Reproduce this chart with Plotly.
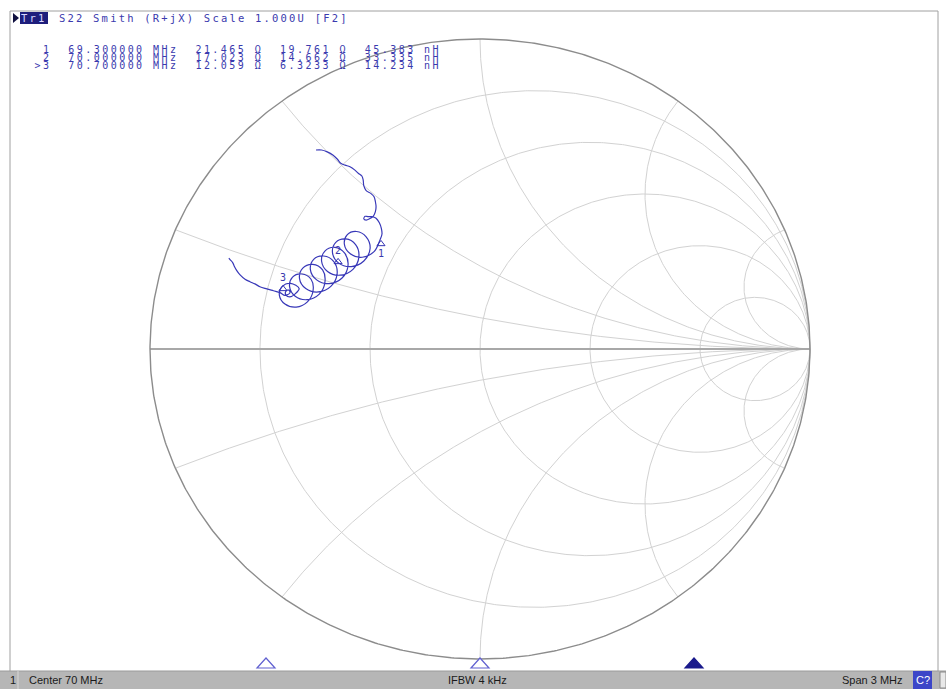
import numpy as np
import plotly.graph_objects as go

# ---------------- data ----------------
# measured S22 trace, reflection coefficient (real / imaginary)
trace_re = [
    -0.497, -0.480, -0.463, -0.446, -0.432, -0.422, -0.409, -0.394, -0.379, -0.369,
    -0.358, -0.354, -0.352, -0.345, -0.331, -0.321, -0.317, -0.315, -0.317, -0.323,
    -0.335, -0.345, -0.352, -0.348, -0.339, -0.328, -0.315, -0.305, -0.299, -0.297,
    -0.303, -0.321, -0.357, -0.393, -0.411, -0.402, -0.374, -0.345,
    -0.333, -0.352, -0.390, -0.428, -0.447, -0.437, -0.407, -0.377,
    -0.367, -0.385, -0.424, -0.462, -0.480, -0.470, -0.440, -0.410,
    -0.400, -0.418, -0.457, -0.495, -0.514, -0.504, -0.474, -0.443,
    -0.433, -0.452, -0.490, -0.528, -0.547, -0.537, -0.507, -0.477,
    -0.470, -0.487, -0.524, -0.560, -0.577, -0.568, -0.540, -0.512,
    -0.506, -0.523, -0.557, -0.591, -0.608, -0.599, -0.574, -0.548,
    -0.561, -0.576, -0.588, -0.588, -0.579, -0.576, -0.591,
    -0.606, -0.626, -0.646, -0.667, -0.682, -0.697, -0.712, -0.727, -0.737, -0.745,
    -0.749, -0.758, -0.761,
]
trace_im = [
    0.642, 0.642, 0.636, 0.626, 0.612, 0.599, 0.593, 0.588, 0.577, 0.567,
    0.558, 0.545, 0.526, 0.511, 0.502, 0.491, 0.475, 0.459, 0.443, 0.429,
    0.420, 0.416, 0.420, 0.428, 0.427, 0.427, 0.422, 0.407, 0.389, 0.371,
    0.352, 0.314, 0.296, 0.307, 0.338, 0.369, 0.379, 0.362,
    0.324, 0.284, 0.266, 0.277, 0.311, 0.344, 0.355, 0.337,
    0.297, 0.257, 0.238, 0.250, 0.283, 0.316, 0.328, 0.309,
    0.269, 0.229, 0.211, 0.223, 0.256, 0.289, 0.300, 0.282,
    0.242, 0.202, 0.184, 0.195, 0.228, 0.261, 0.273, 0.255,
    0.215, 0.177, 0.159, 0.170, 0.201, 0.232, 0.242, 0.225,
    0.187, 0.152, 0.135, 0.145, 0.174, 0.202, 0.212, 0.195,
    0.177, 0.168, 0.174, 0.187, 0.190, 0.181, 0.173,
    0.182, 0.188, 0.194, 0.201, 0.210, 0.217, 0.225, 0.239, 0.253, 0.268,
    0.278, 0.289, 0.293,
]

marker_ids = [1, 2, 3]
marker_freq_mhz = [69.3, 70.0, 70.7]
marker_r_ohm = [21.465, 17.023, 12.059]
marker_x_ohm = [19.761, 14.662, 6.3233]
marker_l_nh = [45.383, 33.335, 14.234]
marker_re = [-0.300, -0.430, -0.597]
marker_im = [0.339, 0.281, 0.194]
active_marker = 3

grid_r = [0.2, 0.5, 1.0, 2.0, 5.0]
grid_x = [0.2, 0.5, 1.0, 2.0, 5.0]

center_mhz = 70
span_mhz = 3
ifbw_khz = 4
trace_name = "Tr1"
param_name = "S22"
scale_u = 1.000
channel = 1

# ---------------- helpers (layout only) ----------------
W, H = 946, 689
def px(x):
    return x / W
def py(y):
    return 1 - y / H

BLUE = "#3a3aae"
GRID = "#d2d2d2"
MONO = "DejaVu Sans Mono"
MONO_SIZE = 10.5
ROW_SIZE = 10
def wide(s, size=None, spacing=2.2):
    # wide bitmap-like spacing of the analyser font
    st = f"letter-spacing:{spacing}px"
    if size:
        st += f";font-size:{size}px"
    return f'<span style="{st}">' + s.replace(" ", "\u00a0") + "</span>"

fig = go.Figure()

# Smith grid: resistance circles
gx, gy = [], []
t = np.linspace(0, 2 * np.pi, 721)
for r in grid_r:
    c, rad = r / (1 + r), 1 / (1 + r)
    gx += list(c + rad * np.cos(t)) + [None]
    gy += list(rad * np.sin(t)) + [None]
# reactance arcs
rr = np.concatenate([np.linspace(0, 1, 200), np.logspace(0, 4, 400)])
for x in grid_x:
    for s in (1, -1):
        z = rr + 1j * s * x
        g = (z - 1) / (z + 1)
        gx += list(g.real) + [None]
        gy += list(g.imag) + [None]
fig.add_trace(go.Scatter(x=gx, y=gy, mode="lines", line=dict(color=GRID, width=1),
                         hoverinfo="skip", showlegend=False))
# real axis
fig.add_trace(go.Scatter(x=[-1, 1], y=[0, 0], mode="lines",
                         line=dict(color="#a8a8a8", width=2), hoverinfo="skip", showlegend=False))
# outer circle
fig.add_trace(go.Scatter(x=np.cos(t), y=np.sin(t), mode="lines",
                         line=dict(color="#8c8c8c", width=1.4), hoverinfo="skip", showlegend=False))

# measured trace
fig.add_trace(go.Scatter(x=trace_re, y=trace_im, mode="lines",
                         line=dict(color="#3838b8", width=1.2, shape="spline", smoothing=1.0),
                         showlegend=False))

# trace markers
fig.add_trace(go.Scatter(x=marker_re, y=marker_im, mode="markers+text",
                         marker=dict(symbol="triangle-up-open", size=7, color="#3434b4",
                                     line=dict(width=1, color="#3434b4")),
                         text=[str(m) for m in marker_ids],
                         textposition=["bottom center", "top center", "top center"],
                         textfont=dict(family=MONO, size=10, color=BLUE),
                         showlegend=False))

# stimulus markers along the bottom (frequency axis x2)
for f, m in zip(marker_freq_mhz, marker_ids):
    filled = (m == active_marker)
    fig.add_shape(type="path", xref="x2", yref="paper", xsizemode="pixel", ysizemode="pixel",
                  xanchor=f, yanchor=py(668),
                  path="M -9,0 L 9,0 L 0,10 Z",
                  fillcolor="#1a1a8c" if filled else "white",
                  line=dict(color="#1a1a8c" if filled else "#6060d0", width=1.2))

# frame
frame = dict(color="#a0a0a0", width=1)
fig.add_shape(type="line", xref="paper", yref="paper", x0=px(10), x1=px(938), y0=py(11), y1=py(11), line=frame)
fig.add_shape(type="line", xref="paper", yref="paper", x0=px(10), x1=px(10), y0=py(11), y1=py(671), line=frame)
fig.add_shape(type="line", xref="paper", yref="paper", x0=px(938), x1=px(938), y0=py(11), y1=py(671), line=frame)

# status bar
fig.add_shape(type="rect", xref="paper", yref="paper", x0=0, x1=1, y0=0, y1=py(671),
              fillcolor="#b6b6b6", line=dict(width=0), layer="below")
fig.add_shape(type="line", xref="paper", yref="paper", x0=0, x1=1, y0=py(671), y1=py(671),
              line=dict(color="#9a9a9a", width=1))
fig.add_shape(type="line", xref="paper", yref="paper", x0=px(18), x1=px(18), y0=0, y1=py(671),
              line=dict(color="#d8d8d8", width=1))
fig.add_shape(type="rect", xref="paper", yref="paper", x0=px(913), x1=px(932), y0=0, y1=py(671),
              fillcolor="#3c46c8", line=dict(width=0))
fig.add_shape(type="rect", xref="paper", yref="paper", x0=px(940), x1=1, y0=py(688), y1=py(672),
              fillcolor="#e8e8e8", line=dict(color="#8a8a8a", width=1))

# header
fig.add_shape(type="path", xref="paper", yref="paper",
              path=f"M {px(13)},{py(13)} L {px(19)},{py(18)} L {px(13)},{py(23)} Z",
              fillcolor="#101040", line=dict(width=0))
fig.add_shape(type="rect", xref="paper", yref="paper", x0=px(20), x1=px(48), y0=py(24), y1=py(12),
              fillcolor="#1e1e7c", line=dict(width=0))

ann = []
ann.append(dict(x=px(34), y=py(18), text=wide(trace_name),
                font=dict(family=MONO, size=MONO_SIZE, color="#d8d8ff")))
ann.append(dict(x=px(57), y=py(18), xanchor="left",
                text=wide(f"{param_name} Smith (R+jX) Scale {scale_u:.3f}U [F2]"),
                font=dict(family=MONO, size=MONO_SIZE, color=BLUE)))

# marker readout table: one text block, tight analyser line pitch
lines = []
for m, f, r, x, l in zip(marker_ids, marker_freq_mhz, marker_r_ohm, marker_x_ohm, marker_l_nh):
    prefix = ">" if m == active_marker else " "
    s = f" {prefix}{m}  {f:.6f} MHz  {r:.5g} \u03a9  {x:.5g} \u03a9  {l:.5g} nH"
    lines.append(wide(s, size=ROW_SIZE, spacing=2.45))
ann.append(dict(x=px(24), y=py(57), xanchor="left", align="left", text="<br>".join(lines),
                font=dict(family=MONO, size=7.8 / 1.3, color=BLUE)))

SB = dict(family="Liberation Sans", size=11, color="#1a1a1a")
ann.append(dict(x=px(8), y=py(680), xanchor="left", text=str(channel), font=SB))
ann.append(dict(x=px(27), y=py(680), xanchor="left", text=f"Center {center_mhz:g} MHz", font=SB))
ann.append(dict(x=px(477), y=py(680), xanchor="center", text=f"IFBW {ifbw_khz:g} kHz", font=SB))
ann.append(dict(x=px(905), y=py(680), xanchor="right", text=f"Span {span_mhz:g} MHz", font=SB))
ann.append(dict(x=px(922.5), y=py(680), xanchor="center", text="C?",
                font=dict(family="Liberation Sans", size=11, color="white")))
for a in ann:
    a.setdefault("xanchor", "center")
    a.update(xref="paper", yref="paper", yanchor="middle", showarrow=False)

fig.update_layout(
    width=W, height=H,
    margin=dict(l=0, r=0, t=0, b=0),
    paper_bgcolor="white", plot_bgcolor="white",
    xaxis=dict(range=[-480 / 330, 466 / 330], visible=False, fixedrange=True, domain=[0, 1]),
    yaxis=dict(range=[(349 - 689) / 310, 349 / 310], visible=False, fixedrange=True, domain=[0, 1]),
    xaxis2=dict(range=[68.4299, 71.5243], overlaying="x", visible=False, fixedrange=True),
    annotations=ann,
    showlegend=False,
)

fig.write_html("out.html", config={"displayModeBar": False},
               post_script="document.body.style.margin='0';document.body.style.overflow='hidden';")
